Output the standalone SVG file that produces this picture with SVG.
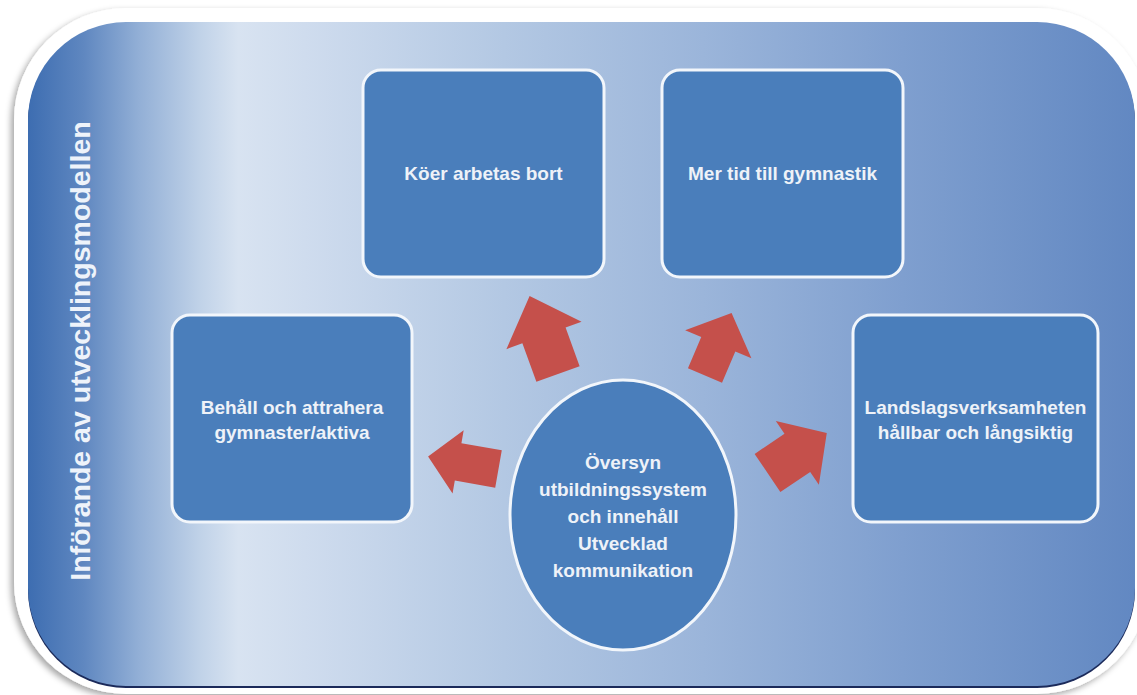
<svg xmlns="http://www.w3.org/2000/svg" width="1137" height="695" viewBox="0 0 1137 695">
<defs>
<linearGradient id="bg" gradientUnits="userSpaceOnUse" x1="28" y1="0" x2="1135" y2="0">
<stop offset="0" stop-color="#3d6db1"/>
<stop offset="0.05" stop-color="#5f87c0"/>
<stop offset="0.10" stop-color="#92afd6"/>
<stop offset="0.155" stop-color="#c0d2e8"/>
<stop offset="0.19" stop-color="#d8e3f1"/>
<stop offset="0.25" stop-color="#cfdcee"/>
<stop offset="0.43" stop-color="#b3c8e3"/>
<stop offset="0.61" stop-color="#9bb5da"/>
<stop offset="0.79" stop-color="#7f9fcf"/>
<stop offset="1" stop-color="#6288c2"/>
</linearGradient>
<filter id="sh" x="-5%" y="-5%" width="110%" height="110%">
<feDropShadow dx="-3" dy="3" stdDeviation="3" flood-color="#000" flood-opacity="0.35"/>
</filter>
<path id="arrowL" d="M-23,0 L23,0 L23,-41 L40,-41 L0,-83 L-40,-41 L-23,-41 Z"/>
</defs>
<style>
.box{fill:#4a7ebb;stroke:#f2f6fb;stroke-width:3}
.lbl{font-family:"Liberation Sans",Arial,sans-serif;font-weight:bold;font-size:19px;fill:#eef2f8;text-anchor:middle}
.arr{fill:#c5504b}
</style>
<rect width="1137" height="695" fill="#ffffff"/>
<g id="frame">
<rect x="14" y="8" width="1135" height="686" rx="112" ry="112" fill="#ffffff" filter="url(#sh)"/>
<rect x="28" y="24" width="1107" height="664" rx="98" ry="98" fill="#1b2a5a"/>
<rect x="28" y="22" width="1107" height="664" rx="98" ry="98" fill="url(#bg)"/>
<text transform="translate(90,351) rotate(-90)" font-family="Liberation Sans, Arial, sans-serif" font-weight="bold" font-size="28.5" fill="#eef3fa" text-anchor="middle">Införande av utvecklingsmodellen</text>
</g>
<g id="connectors">
<path class="arr" d="M-23,0 L23,0 L23,-41 L40,-41 L0,-83 L-40,-41 L-23,-41 Z" transform="translate(558,374) rotate(-20)"/>
<path class="arr" d="M-18.5,0 L18.5,0 L18.5,-34 L36,-34 L0,-68 L-36,-34 L-18.5,-34 Z" transform="translate(705,375.5) rotate(23)"/>
<path class="arr" d="M-19,0 L19,0 L19,-41 L32,-41 L0,-71.5 L-32,-41 L-19,-41 Z" transform="translate(498.5,469) rotate(-80)"/>
<path class="arr" d="M-23,0 L23,0 L23,-36 L38.5,-36 L0,-71.5 L-38.5,-36 L-23,-36 Z" transform="translate(767.5,473) rotate(56)"/>
</g>
<g id="node-koer">
<rect class="box" x="363" y="70" width="241" height="207" rx="18"/>
<text class="lbl" x="483.5" y="180">Köer arbetas bort</text>
</g>
<g id="node-mertid">
<rect class="box" x="662" y="70" width="241" height="207" rx="18"/>
<text class="lbl" x="782.5" y="180">Mer tid till gymnastik</text>
</g>
<g id="node-behall">
<rect class="box" x="172" y="315" width="240" height="207" rx="18"/>
<text class="lbl" x="292" y="414">Behåll och attrahera</text>
<text class="lbl" x="292" y="439">gymnaster/aktiva</text>
</g>
<g id="node-landslag">
<rect class="box" x="853" y="315" width="245" height="207" rx="18"/>
<text class="lbl" x="975.5" y="414">Landslagsverksamheten</text>
<text class="lbl" x="975.5" y="439">hållbar och långsiktig</text>
</g>
<g id="node-oversyn">
<ellipse class="box" cx="623" cy="515" rx="113" ry="135"/>
<text class="lbl" x="623" y="469">Översyn</text>
<text class="lbl" x="623" y="496">utbildningssystem</text>
<text class="lbl" x="623" y="523">och innehåll</text>
<text class="lbl" x="623" y="550">Utvecklad</text>
<text class="lbl" x="623" y="577">kommunikation</text>
</g>
</svg>
